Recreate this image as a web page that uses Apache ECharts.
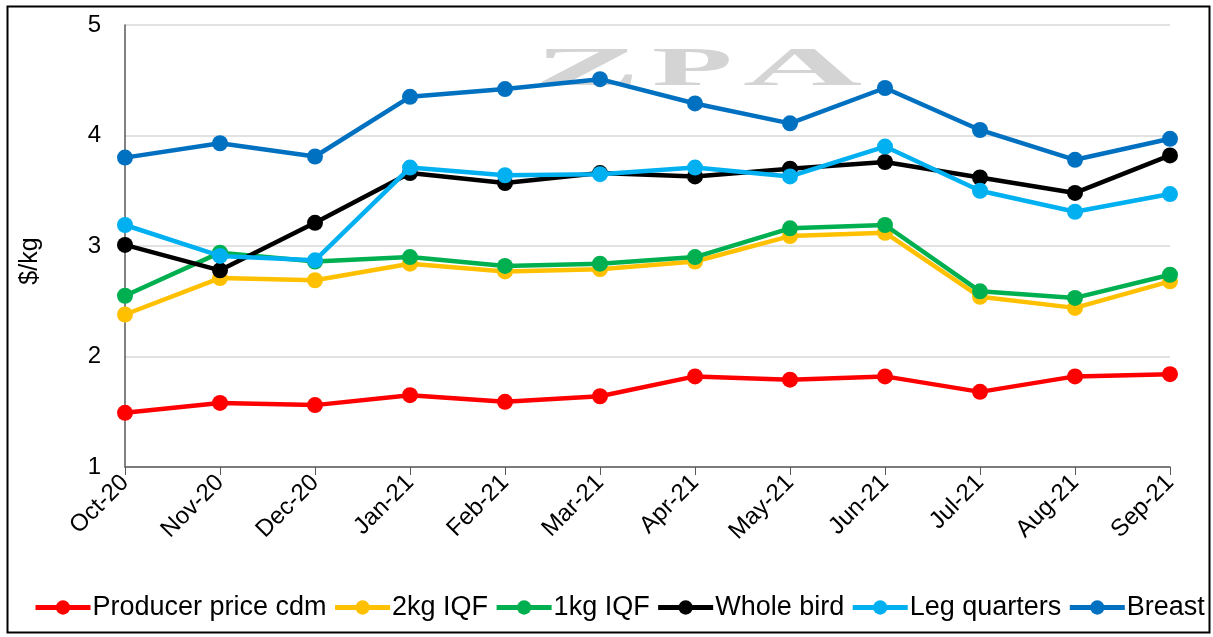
<!DOCTYPE html>
<html>
<head>
<meta charset="utf-8">
<script src="https://cdn.jsdelivr.net/npm/echarts@6/dist/echarts.min.js"></script>
<style>
html,body{margin:0;padding:0;background:#fff;}
#chart{width:1213px;height:637px;}
</style>
</head>
<body>
<div id="chart"></div>
<script>
const categories = ['Oct-20','Nov-20','Dec-20','Jan-21','Feb-21','Mar-21','Apr-21','May-21','Jun-21','Jul-21','Aug-21','Sep-21'];
const producerPrice = [1.49,1.58,1.56,1.65,1.59,1.64,1.82,1.79,1.82,1.68,1.82,1.84];
const iqf2kg = [2.38,2.71,2.69,2.84,2.77,2.79,2.86,3.09,3.12,2.54,2.44,2.68];
const iqf1kg = [2.55,2.94,2.86,2.90,2.82,2.84,2.90,3.16,3.19,2.59,2.53,2.74];
const wholeBird = [3.01,2.78,3.21,3.66,3.57,3.66,3.63,3.70,3.76,3.62,3.48,3.82];
const legQuarters = [3.19,2.91,2.87,3.71,3.64,3.65,3.71,3.63,3.90,3.50,3.31,3.47];
const breast = [3.80,3.93,3.81,4.35,4.42,4.51,4.29,4.11,4.43,4.05,3.78,3.97];
const seriesNames = ['Producer price cdm','2kg IQF','1kg IQF','Whole bird','Leg quarters','Breast'];
const seriesColors = ['#FF0000','#FFC000','#00B050','#000000','#00B0F0','#0070C0'];
const seriesData = [producerPrice, iqf2kg, iqf1kg, wholeBird, legQuarters, breast];
const yTicks = [1,2,3,4,5];

const chart = echarts.init(document.getElementById('chart'));
const font = 'Liberation Sans';
const wmFont = 'bold 55px "Liberation Serif"';
chart.setOption({
  animation: false,
  backgroundColor: '#fff',
  textStyle: {fontFamily: font},
  graphic: [
    {type:'rect', shape:{x:7.5,y:6.5,width:1202,height:626}, style:{fill:'none',stroke:'#000',lineWidth:2}, z:-1},
    {type:'text', x:534, y:43, z:-1, scaleX:2.9, style:{text:'Z', font:wmFont, fill:'#d4d4d4'}},
    {type:'text', x:652, y:43, z:-1, scaleX:2.4, style:{text:'P', font:wmFont, fill:'#d4d4d4'}},
    {type:'text', x:743, y:43, z:-1, scaleX:3.0, style:{text:'A', font:wmFont, fill:'#d4d4d4'}}
  ],
  grid: {left:125, right:43, top:25, bottom:170, containLabel:false},
  legend: {
    data: seriesNames,
    left: 28, top: 589, width: 1190,
    itemWidth: 55, itemHeight: 18, itemGap: 6,
    lineStyle: {width: 5},
    textStyle: {fontSize:27, color:'#000', fontFamily: font, padding:[0,0,0,-3]}
  },
  xAxis: {
    type:'category', data:categories, boundaryGap:false,
    axisLine:{lineStyle:{color:'#595959', width:1.5}},
    axisTick:{show:true, length:8, lineStyle:{color:'#595959'}},
    axisLabel:{rotate:45, fontSize:24, color:'#000', margin:12, interval:0}
  },
  yAxis: {
    type:'value', min:yTicks[0], max:yTicks[yTicks.length-1], interval:1,
    name:'$/kg', nameLocation:'middle', nameGap:82, nameRotate:90,
    nameTextStyle:{fontSize:25, color:'#000', padding:[0,0,0,-30]},
    axisLine:{show:true, lineStyle:{color:'#595959', width:1.5}},
    axisTick:{show:false},
    axisLabel:{fontSize:24, color:'#000', margin:24},
    splitLine:{lineStyle:{color:'#d9d9d9', width:1.5}}
  },
  series: seriesNames.map((n,i)=>({
    name:n, type:'line', data:seriesData[i],
    symbol:'circle', symbolSize:16,
    lineStyle:{width:4.5, color:seriesColors[i]},
    itemStyle:{color:seriesColors[i]},
    z: 2+i
  }))
});
</script>
</body>
</html>
